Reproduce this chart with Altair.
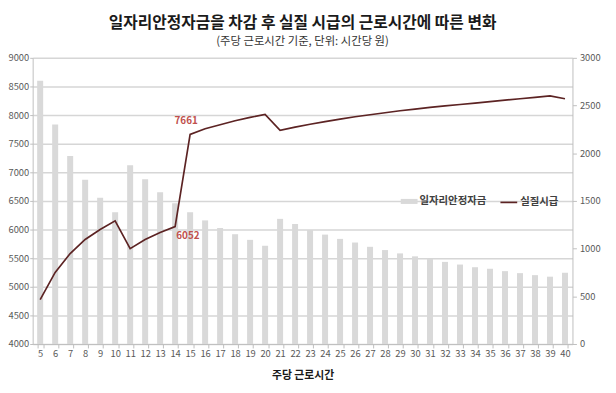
import altair as alt
import pandas as pd

hours = list(range(5, 41))
subsidy = [2760, 2300, 1970, 1723, 1534, 1382, 1874, 1726, 1592, 1475,
           1382, 1296, 1216, 1151, 1092, 1030, 1312, 1258, 1195, 1147,
           1102, 1064, 1019, 985, 950, 919, 895, 861, 833, 805,
           789, 764, 743, 722, 706, 747]
real_wage = [4775, 5252, 5580, 5826, 6000, 6153, 5666, 5826, 5950, 6052,
             7661, 7760, 7830, 7900, 7960, 8010, 7735, 7790, 7840, 7885,
             7930, 7970, 8005, 8040, 8075, 8105, 8135, 8160, 8185, 8210,
             8235, 8260, 8285, 8310, 8335, 8285]
bar_name = "일자리안정자금"
line_name = "실질시급"
left_ticks = list(range(4000, 9001, 500))
right_ticks = list(range(0, 3001, 500))
ann_hours = [14, 15]
ann_values = [6052, 7661]

FONT = "Noto Sans CJK KR"

df = pd.DataFrame({"hours": hours, "subsidy": subsidy, "wage": real_wage,
                   "s_bar": [bar_name] * len(hours), "s_line": [line_name] * len(hours)})
ann = pd.DataFrame({"hours": ann_hours, "wage": ann_values, "label": [str(v) for v in ann_values]})

xenc = alt.X("hours:O", sort=hours,
             scale=alt.Scale(paddingInner=0.6, paddingOuter=0.3),
             axis=alt.Axis(title="주당 근로시간", labelAngle=0, tickBand="extent",
                           tickSize=4, tickColor="#bfbfbf", domainColor="#bfbfbf",
                           labelFontSize=9.5, labelColor="#595959", labelPadding=1,
                           titleFontSize=11, titleFontWeight="bold", titleColor="#1a1a1a",
                           titlePadding=11, labelFont=FONT, titleFont=FONT))

bars = alt.Chart(df).mark_bar().encode(
    x=xenc,
    y=alt.Y("subsidy:Q", scale=alt.Scale(domain=[0, 3000], nice=False),
            axis=alt.Axis(orient="right", values=right_ticks, grid=False, title=None,
                          format="d", tickSize=4, tickColor="#bfbfbf", domainColor="#bfbfbf",
                          labelFontSize=9.5, labelColor="#595959", labelPadding=3,
                          labelFont=FONT)),
    color=alt.Color("s_bar:N", scale=alt.Scale(domain=[bar_name], range=["#d9d9d9"]),
                    legend=alt.Legend(orient="none", legendX=373, legendY=137, title=None,
                                      symbolType="M-1,-0.3H1V0.3H-1Z", symbolSize=289,
                                      symbolStrokeWidth=0, labelOffset=2, padding=0,
                                      labelFontSize=10.5, labelFontWeight="bold",
                                      labelColor="#404040", labelFont=FONT)),
)

yline = alt.Scale(domain=[4000, 9000], nice=False)
yaxis = alt.Axis(orient="left", values=left_ticks, grid=True, gridColor="#d6d6d6",
                 gridWidth=1.5, title=None, format="d", tickSize=3, tickColor="#bfbfbf",
                 domainColor="#bfbfbf", labelFontSize=9.5, labelColor="#595959",
                 labelPadding=1, labelFont=FONT)

line = alt.Chart(df).mark_line(strokeWidth=1.7).encode(
    x=alt.X("hours:O", sort=hours),
    y=alt.Y("wage:Q", scale=yline, axis=yaxis),
    stroke=alt.Stroke("s_line:N", scale=alt.Scale(domain=[line_name], range=["#5c2323"]),
                      legend=alt.Legend(orient="none", legendX=473, legendY=137, title=None,
                                        symbolType="stroke", symbolSize=289,
                                        symbolStrokeWidth=1.7, labelOffset=2, padding=0,
                                        labelFontSize=10.5, labelFontWeight="bold",
                                        labelColor="#404040", labelFont=FONT)),
)

t1 = alt.Chart(ann[ann.hours == 15]).mark_text(
    color="#c0504d", fontWeight="bold", fontSize=10, dx=-4, dy=-14, font=FONT
).encode(x=alt.X("hours:O", sort=hours), y=alt.Y("wage:Q", scale=yline, axis=yaxis), text="label:N")

t2 = alt.Chart(ann[ann.hours == 14]).mark_text(
    color="#c0504d", fontWeight="bold", fontSize=10, dx=13, dy=10, font=FONT
).encode(x=alt.X("hours:O", sort=hours), y=alt.Y("wage:Q", scale=yline, axis=yaxis), text="label:N")

inner = alt.layer(line, t1, t2)

chart = alt.layer(bars, inner).resolve_scale(y="independent").properties(
    width=547, height=290,
    autosize="none",
    padding={"left": 25, "top": 48, "right": 36, "bottom": 37},
    title=alt.TitleParams(
        text="일자리안정자금을 차감 후 실질 시급의 근로시간에 따른  변화",
        subtitle="(주당 근로시간 기준, 단위: 시간당 원)",
        fontSize=16, fontWeight="bold", color="#1a1a1a", font=FONT,
        subtitleFontSize=11.5, subtitleColor="#333333", subtitleFont=FONT,
        subtitlePadding=5, anchor="middle", offset=6,
    ),
).configure_view(stroke=None)

chart.save("out.html", embed_options={"renderer": "svg", "actions": False})
